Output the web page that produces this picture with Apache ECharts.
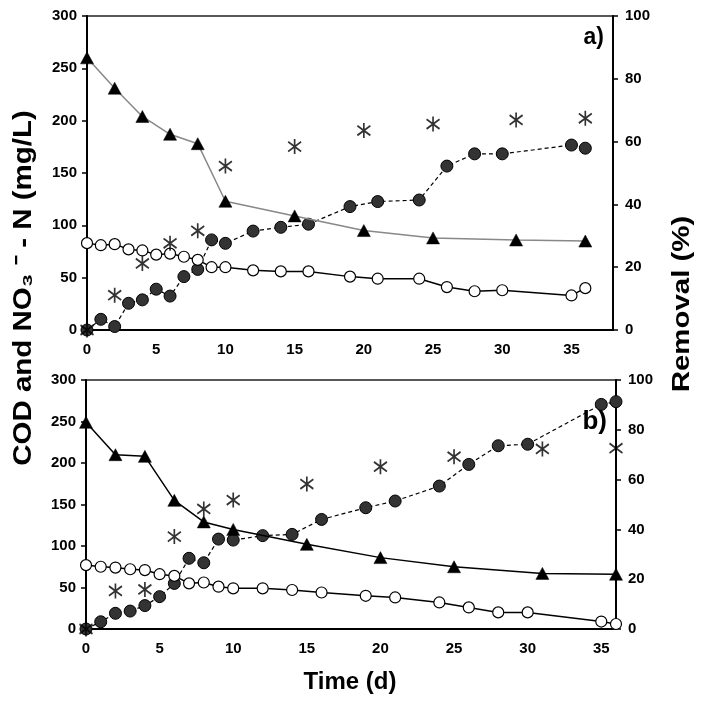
<!DOCTYPE html>
<html>
<head>
<meta charset="utf-8">
<script src="https://cdn.jsdelivr.net/npm/echarts@6/dist/echarts.min.js"></script>
<style>
html,body{margin:0;padding:0;background:#fff;}
#chart{width:709px;height:706px;}
</style>
</head>
<body>
<div id="chart"></div>
<script>
// ---------- Data ----------
const xTicks = [0, 5, 10, 15, 20, 25, 30, 35];
const leftTicks = [0, 50, 100, 150, 200, 250, 300];
const rightTicks = [0, 20, 40, 60, 80, 100];

// Panel a)
const daysA_tri = [0, 2, 4, 6, 8, 10, 15, 20, 25, 31, 36];
const codA = [260, 231, 204, 187, 178, 123, 109, 95, 88, 86, 85];
const daysA_circ = [0, 1, 2, 3, 4, 5, 6, 7, 8, 9, 10, 12, 14, 16, 19, 21, 24, 26, 28, 30, 35, 36];
const no3A = [83, 81, 82, 77, 76, 72, 73, 70, 67, 60, 60, 57, 56, 56, 51, 49, 49, 41, 37, 38, 33, 40];
const filledA = [0, 3.4, 1.1, 8.5, 9.6, 13, 10.8, 17, 19.3, 28.7, 27.6, 31.5, 32.7, 33.7, 39.3, 40.9, 41.4, 52.2, 56.1, 56.1, 58.9, 57.9];
const daysA_star = [0, 2, 4, 6, 8, 10, 15, 20, 25, 31, 36];
const starA = [0, 11.1, 21.2, 27.6, 31.6, 52.2, 58.4, 63.5, 65.6, 66.9, 67.4];

// Panel b)
const daysB_tri = [0, 2, 4, 6, 8, 10, 15, 20, 25, 31, 36];
const codB = [249, 210, 208, 155, 129, 120, 102, 86, 75, 67, 66];
const daysB_circ = [0, 1, 2, 3, 4, 5, 6, 7, 8, 9, 10, 12, 14, 16, 19, 21, 24, 26, 28, 30, 35, 36];
const no3B = [77, 75, 74, 72, 71, 66, 64, 55, 56, 51, 49, 49, 47, 44, 40, 38, 32, 26, 20, 20, 9, 6];
const filledB = [0, 2.9, 6.3, 7.2, 9.4, 13, 18.3, 28.4, 26.6, 36.1, 35.7, 37.5, 38, 44, 48.7, 51.4, 57.4, 66.1, 73.6, 74.2, 90.2, 91.3];
const daysB_star = [0, 2, 4, 6, 8, 10, 15, 20, 25, 31, 36];
const starB = [0, 15.3, 15.9, 37.1, 48.2, 51.8, 58.2, 65.2, 69.2, 72.3, 72.6];

// ---------- Helpers ----------
const FONT = 'Liberation Sans, Arial, sans-serif';
const pairs = (xs, ys) => xs.map((x, i) => [x, ys[i]]);
const STAR = 'path://M6,0 L6,14 M0,2.5 L12,11.5 M0,11.5 L12,2.5';

function xAxisCfg(gi, max) {
  return {
    type: 'value', gridIndex: gi, min: 0, max: max, interval: 5,
    axisLine: {show: true, lineStyle: {color: '#000', width: 2}},
    axisTick: {show: false},
    splitLine: {show: false},
    axisLabel: {
      color: '#000', fontFamily: FONT, fontWeight: 'bold', fontSize: 15, margin: 12,
      formatter: v => (xTicks.indexOf(v) >= 0 ? String(v) : '')
    }
  };
}
function yAxisCfg(gi, pos, max, interval, ticks) {
  return {
    type: 'value', gridIndex: gi, position: pos, min: 0, max: max, interval: interval,
    axisLine: {show: true, lineStyle: {color: '#000', width: 2}},
    axisTick: {show: true, inside: false, length: 5, lineStyle: {color: '#000', width: 1.5}},
    splitLine: {show: false},
    axisLabel: {
      color: '#000', fontFamily: FONT, fontWeight: 'bold', fontSize: 15, margin: pos === 'left' ? 10 : 12,
      formatter: v => (ticks.indexOf(v) >= 0 ? String(v) : '')
    }
  };
}
function seriesSet(gi, yl, yr, dTri, cod, dCirc, no3, filled, dStar, star, triLineColor) {
  return [
    {
      type: 'line', xAxisIndex: gi, yAxisIndex: yr, data: pairs(dCirc, filled),
      symbol: 'circle', symbolSize: 12,
      itemStyle: {color: '#333', borderColor: '#000', borderWidth: 1},
      lineStyle: {color: '#000', width: 1.2, type: [4, 3]}, z: 2
    },
    {
      type: 'line', xAxisIndex: gi, yAxisIndex: yl, data: pairs(dCirc, no3),
      symbol: 'circle', symbolSize: 11,
      itemStyle: {color: '#fff', borderColor: '#000', borderWidth: 1.2},
      lineStyle: {color: '#000', width: 1.5}, z: 3
    },
    {
      type: 'line', xAxisIndex: gi, yAxisIndex: yl, data: pairs(dTri, cod),
      symbol: 'triangle', symbolSize: [13, 12],
      itemStyle: {color: '#000', borderColor: '#000', borderWidth: 0.5},
      lineStyle: {color: triLineColor, width: 1.5}, z: 4
    },
    {
      type: 'scatter', xAxisIndex: gi, yAxisIndex: yr, data: pairs(dStar, star),
      symbol: STAR, symbolSize: [13, 15],
      itemStyle: {color: 'transparent', borderColor: '#000', borderWidth: 1.8}, z: 5
    }
  ];
}

const chart = echarts.init(document.getElementById('chart'), null, {renderer: 'canvas'});
chart.setOption({
  animation: false,
  backgroundColor: '#fff',
  grid: [
    {left: 87, top: 16, width: 526, height: 314, show: true, borderColor: '#222', borderWidth: 1.5, backgroundColor: 'transparent'},
    {left: 86, top: 380, width: 530, height: 249, show: true, borderColor: '#222', borderWidth: 1.5, backgroundColor: 'transparent'}
  ],
  xAxis: [xAxisCfg(0, 38), xAxisCfg(1, 36)],
  yAxis: [
    yAxisCfg(0, 'left', 300, 50, leftTicks),
    yAxisCfg(0, 'right', 100, 20, rightTicks),
    yAxisCfg(1, 'left', 300, 50, leftTicks),
    yAxisCfg(1, 'right', 100, 20, rightTicks)
  ],
  series: [].concat(
    seriesSet(0, 0, 1, daysA_tri, codA, daysA_circ, no3A, filledA, daysA_star, starA, '#888'),
    seriesSet(1, 2, 3, daysB_tri, codB, daysB_circ, no3B, filledB, daysB_star, starB, '#000')
  ),
  graphic: [
    {type: 'text', x: 24, y: 288, rotation: Math.PI / 2, scaleX: 1.18, scaleY: 1,
      style: {text: 'COD and NO\u2083 \u207B - N (mg/L)', font: 'bold 25px ' + FONT, fill: '#000', align: 'center', verticalAlign: 'middle'}},
    {type: 'text', x: 683, y: 304, rotation: Math.PI / 2, scaleX: 1.28, scaleY: 1,
      style: {text: 'Removal (%)', font: 'bold 23px ' + FONT, fill: '#000', align: 'center', verticalAlign: 'middle'}},
    {type: 'text', x: 350, y: 682,
      style: {text: 'Time (d)', font: 'bold 24px ' + FONT, fill: '#000', align: 'center', verticalAlign: 'middle'}},
    {type: 'text', x: 604, y: 38,
      style: {text: 'a)', font: 'bold 23px ' + FONT, fill: '#000', align: 'right', verticalAlign: 'middle'}},
    {type: 'text', x: 607, y: 422,
      style: {text: 'b)', font: 'bold 26px ' + FONT, fill: '#000', align: 'right', verticalAlign: 'middle'}}
  ]
});
</script>
</body>
</html>
